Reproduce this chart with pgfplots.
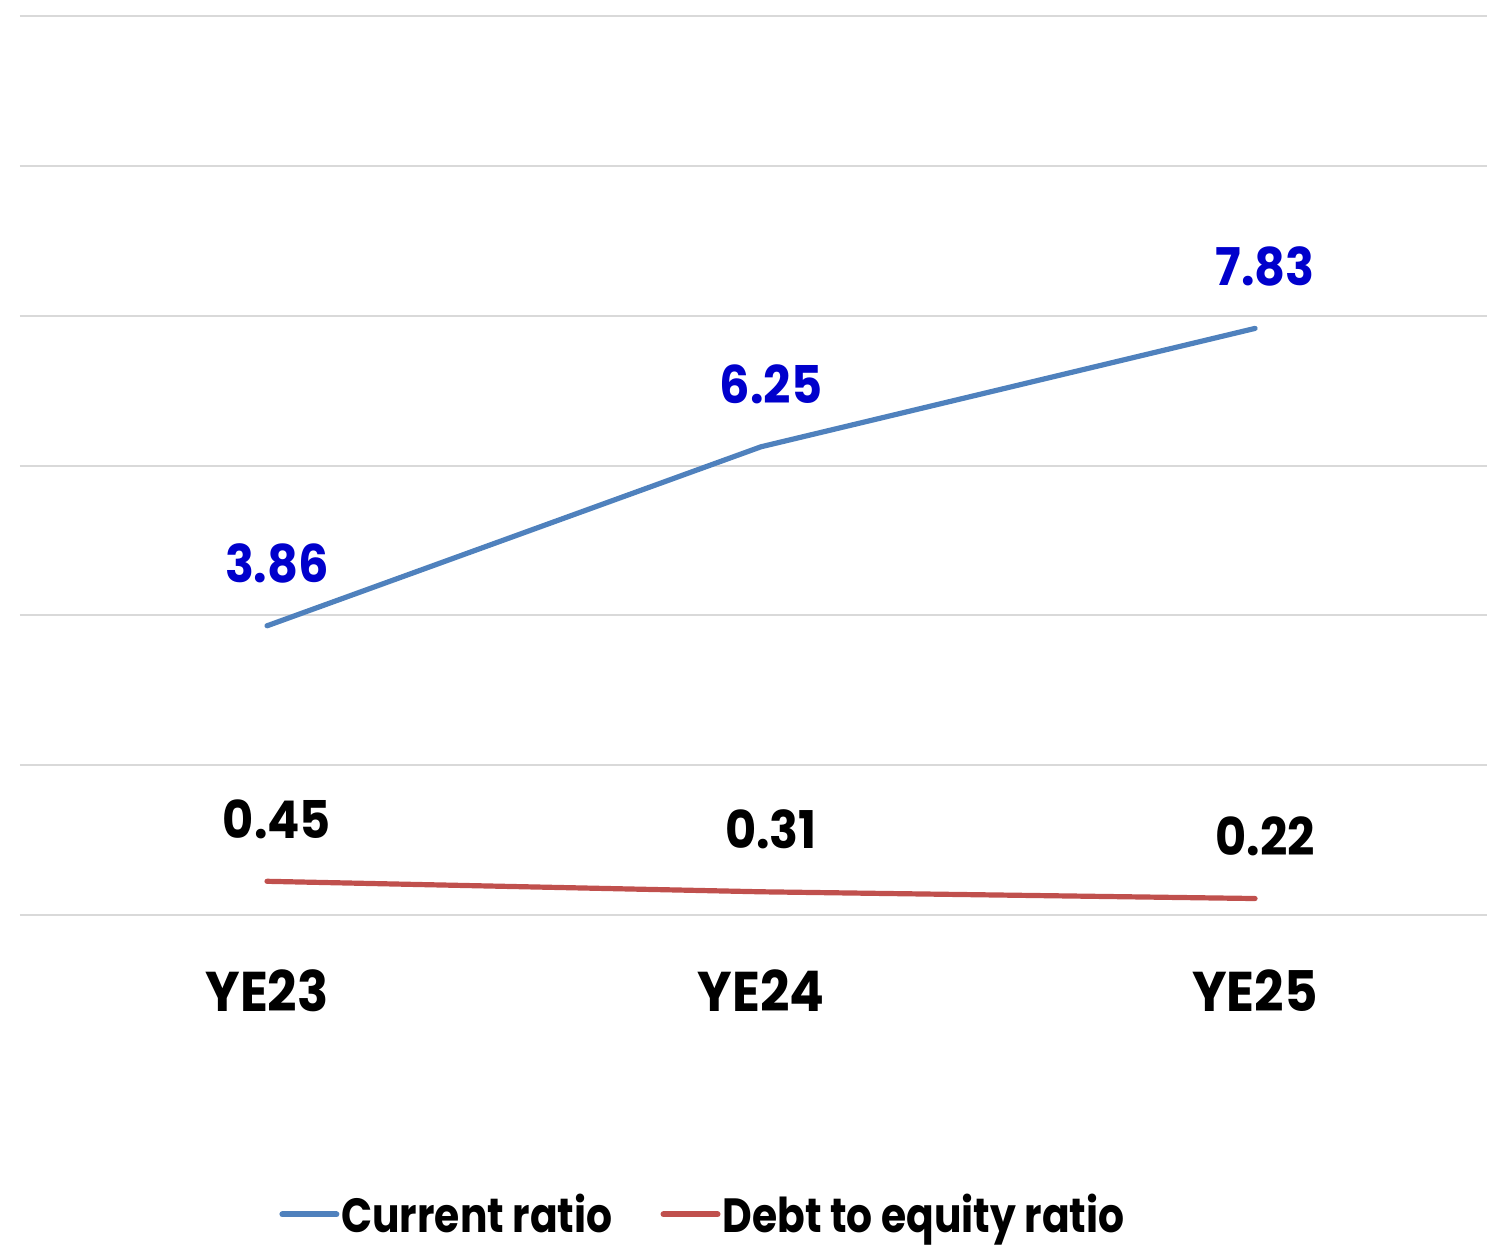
\documentclass[border=0pt]{standalone}
\usepackage{fontspec}
\setmainfont{Poppins}[FakeStretch=0.92]
\newfontfamily\legfont{Poppins}[FakeStretch=0.85]
\usepackage{pgfplots}
\pgfplotsset{compat=1.18}
\definecolor{curblue}{HTML}{4F81BD}
\definecolor{debtred}{HTML}{C0504D}
\definecolor{lblblue}{HTML}{0000CC}
\definecolor{gridgray}{HTML}{D9D9D9}
\begin{document}
\begin{tikzpicture}
\useasboundingbox (0,0) rectangle (743.5pt,625pt);
\begin{axis}[
    at={(10pt,167.5pt)}, anchor=south west,
    scale only axis,
    width=733.6pt, height=449.5pt,
    xmin=-0.5, xmax=2.47,
    ymin=0, ymax=12,
    xtick={0,1,2},
    xticklabels={YE23,YE24,YE25},
    ytick={0,2,...,12},
    yticklabels={},
    ymajorgrids,
    grid style={gridgray, line width=1pt},
    axis line style={draw=none},
    major tick length=0pt,
    xticklabel style={font=\fontsize{28}{32}\selectfont\bfseries, anchor=base, yshift=-48pt},
    /pgf/number format/assume math mode=true,
    clip=false,
    legend columns=2,
    legend style={draw=none, fill=none, at={(0.4655,-0.333)}, anchor=center,
        font=\legfont\fontsize{24}{28}\selectfont\bfseries,
        /tikz/every even column/.append style={column sep=23pt},
        nodes={inner xsep=1pt},
        inner sep=0pt},
    legend cell align=left,
    legend image code/.code={\draw[#1, line width=3pt, line cap=round] (0pt,0pt) -- (27pt,0pt);},
    nodes near coords,
    nodes near coords align={anchor=base},
    every node near coord/.append style={font=\fontsize{26}{30}\selectfont\bfseries, xshift=5pt, yshift=21.5pt},
    point meta=explicit symbolic,
]
\addplot[curblue, line width=2.6pt, line cap=round, mark=none,
    every node near coord/.append style={text=lblblue}]
    coordinates {(0,3.86)[3.86] (1,6.25)[6.25] (2,7.83)[7.83]};
\addlegendentry{Current ratio}
\addplot[debtred, line width=2.6pt, line cap=round, mark=none,
    every node near coord/.append style={text=black}]
    coordinates {(0,0.45)[0.45] (1,0.31)[0.31] (2,0.22)[0.22]};
\addlegendentry{Debt to equity ratio}
\end{axis}
\end{tikzpicture}
\end{document}
